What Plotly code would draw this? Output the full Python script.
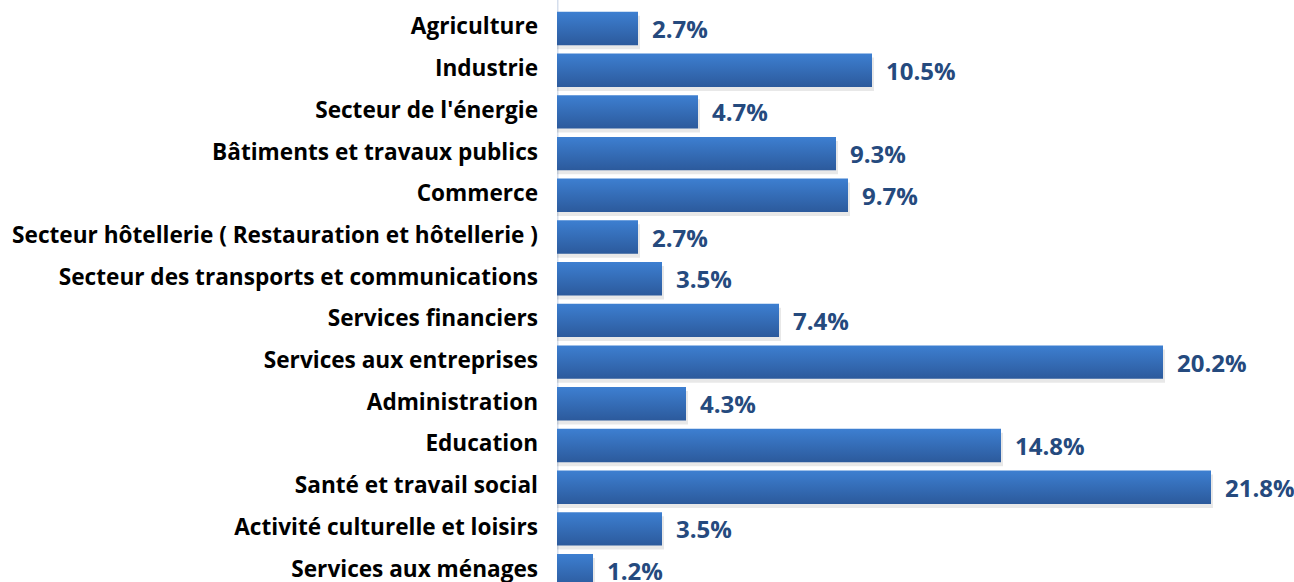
import plotly.graph_objects as go

categories = [
    "Agriculture",
    "Industrie",
    "Secteur de l'énergie",
    "Bâtiments et travaux publics",
    "Commerce",
    "Secteur hôtellerie ( Restauration et hôtellerie )",
    "Secteur des transports et communications",
    "Services financiers",
    "Services aux entreprises",
    "Administration",
    "Education",
    "Santé et travail social",
    "Activité culturelle et loisirs",
    "Services aux ménages",
]
shares = [2.7, 10.5, 4.7, 9.3, 9.7, 2.7, 3.5, 7.4, 20.2, 4.3, 14.8, 21.8, 3.5, 1.2]

FONT = "Open Sans"
HALF = 0.40          # half bar thickness, in category units
ROW_PX = 41.7        # pixel spacing between categories
TOP_PX = 28.5        # pixel position of first category centre
H = 582
W = 1294
LEFT = 557

fig = go.Figure()

# soft drop shadow behind each bar
for i, v in enumerate(shares):
    dx = 2 / 30.0
    dy = 4 / ROW_PX
    fig.add_trace(go.Scatter(
        x=[0, v + dx, v + dx, 0, 0],
        y=[i - HALF + dy, i - HALF + dy, i + HALF + dy, i + HALF + dy, i - HALF + dy],
        fill="toself", mode="lines", line=dict(width=0),
        fillcolor="rgba(0,0,0,0.09)", hoverinfo="skip", showlegend=False,
    ))

# bars with a vertical blue gradient (light on top, darker below)
for i, v in enumerate(shares):
    fig.add_trace(go.Scatter(
        x=[0, v, v, 0, 0],
        y=[i - HALF, i - HALF, i + HALF, i + HALF, i - HALF],
        fill="toself", mode="lines", line=dict(width=0),
        fillgradient=dict(
            type="vertical",
            colorscale=[[0, "#2C5A9C"], [1, "#3D7FD1"]],
        ),
        hoverinfo="skip", showlegend=False,
    ))

# value labels
for i, v in enumerate(shares):
    fig.add_annotation(
        x=v, y=i, text=f"{v:.1f}%", showarrow=False,
        xanchor="left", yanchor="middle", xshift=12, yshift=0,
        font=dict(family=FONT, size=24, color="#254A7E", weight="bold"),
    )

y_top = -TOP_PX / ROW_PX
y_bottom = (H - TOP_PX) / ROW_PX

fig.update_layout(
    width=W, height=H,
    margin=dict(l=LEFT, r=0, t=0, b=0),
    paper_bgcolor="white", plot_bgcolor="white",
    xaxis=dict(range=[0, (W - LEFT) / 30.0], visible=False, automargin=False),
    yaxis=dict(
        range=[y_bottom, y_top],
        tickmode="array", tickvals=list(range(len(categories))), ticktext=categories,
        showgrid=False, zeroline=False, showline=False, ticks="",
        ticklabelstandoff=18, ticklabeloverflow="allow", automargin=False,
        ticklabelshift=2,
        tickfont=dict(family=FONT, size=22.6, color="black", weight="bold"),
    ),
    shapes=[dict(type="line", xref="x", yref="paper", x0=0, x1=0, y0=0, y1=1,
                 line=dict(color="#D5DEEC", width=3), layer="below")],
)

fig.write_html("out.html")
